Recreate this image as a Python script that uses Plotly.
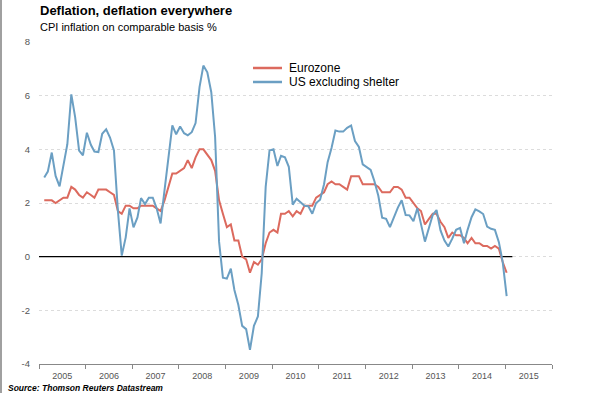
import pandas as pd
import plotly.graph_objects as go

# Monthly data, Feb 2005 .. Jan 2015
start_month = "2005-02-01"
n_months = 120

eurozone = [
    2.1, 2.1, 2.1, 2.0, 2.1, 2.2, 2.2, 2.6, 2.5, 2.3, 2.2, 2.4,
    2.3, 2.2, 2.5, 2.5, 2.5, 2.4, 2.3, 1.7, 1.6, 1.9, 1.9, 1.8,
    1.8, 1.9, 1.9, 1.9, 1.9, 1.8, 1.7, 2.1, 2.6, 3.1, 3.1, 3.2,
    3.3, 3.6, 3.3, 3.7, 4.0, 4.0, 3.8, 3.6, 3.2, 2.1, 1.6, 1.1,
    1.2, 0.6, 0.6, 0.0, -0.1, -0.6, -0.2, -0.3, -0.1, 0.5, 0.9, 1.0,
    0.9, 1.6, 1.6, 1.7, 1.5, 1.7, 1.6, 1.9, 1.9, 1.9, 2.2, 2.3,
    2.4, 2.7, 2.8, 2.7, 2.7, 2.6, 2.5, 3.0, 3.0, 3.0, 2.7, 2.7,
    2.7, 2.7, 2.6, 2.4, 2.4, 2.4, 2.6, 2.6, 2.5, 2.2, 2.2, 2.0,
    1.8, 1.7, 1.2, 1.4, 1.6, 1.6, 1.3, 1.1, 0.7, 0.9, 0.8, 0.8,
    0.7, 0.5, 0.7, 0.5, 0.5, 0.4, 0.4, 0.3, 0.4, 0.3, -0.2, -0.6,
]

us_ex_shelter = [
    2.95, 3.17, 3.88, 3.01, 2.62, 3.33, 4.19, 6.05, 5.2, 3.95, 3.78, 4.62,
    4.17, 3.92, 3.9, 4.58, 4.75, 4.44, 3.96, 1.7, 0.04, 0.72, 1.8, 1.09,
    1.46, 2.18, 1.96, 2.2, 2.2, 1.8, 1.24, 2.48, 3.72, 4.89, 4.56, 4.85,
    4.6, 4.52, 4.64, 4.98, 6.32, 7.12, 6.87, 6.13, 4.46, 0.56, -0.78, -0.82,
    -0.45, -1.24, -1.8, -2.58, -2.7, -3.47, -2.58, -2.23, -0.62, 2.6, 3.96, 4.0,
    3.38, 3.76, 3.7, 3.35, 1.94, 2.16, 2.03, 1.9, 1.88, 1.6, 2.0, 2.12,
    2.7, 3.52, 4.06, 4.7, 4.66, 4.66, 4.8, 4.89, 4.31, 4.09, 3.44, 3.34,
    3.23, 2.82, 2.27, 1.45, 1.41, 1.1, 1.5, 1.83, 2.1, 1.55, 1.54, 1.32,
    1.81, 1.25, 0.56, 1.05, 1.55, 1.74, 0.98, 0.6, 0.38, 0.67, 1.0, 1.07,
    0.5, 1.0, 1.47, 1.76, 1.69, 1.59, 1.12, 1.04, 1.0, 0.54, -0.2, -1.47,
]

y_ticks = [-4, -2, 0, 2, 4, 6, 8]
series_names = ["Eurozone", "US excluding shelter"]
series_colors = ["#dc6a5e", "#6b9fc3"]

dates = pd.date_range(start_month, periods=n_months, freq="MS") + pd.Timedelta(days=10)

FONT = "Liberation Sans, Arial, sans-serif"

fig = go.Figure()
for name, vals, col in zip(series_names, [eurozone, us_ex_shelter], series_colors):
    fig.add_trace(go.Scatter(x=dates, y=vals, mode="lines", name=name,
                             line=dict(color=col, width=2), showlegend=False,
                             hoverinfo="skip"))

W, H = 590, 393
L, R, T, B = 39, 38, 42, 29
pw, ph = W - L - R, H - T - B

def px_x(p):
    return (p - L) / pw

def px_y(p):
    return (H - B - p) / ph

annotations = [
    dict(text="<b>Deflation, deflation everywhere</b>", x=px_x(38), y=px_y(10),
         xanchor="left", yanchor="middle", font=dict(size=13, color="#000", family=FONT)),
    dict(text="CPI inflation on comparable basis %", x=px_x(38), y=px_y(26.5),
         xanchor="left", yanchor="middle", font=dict(size=11, color="#000", family=FONT)),
    dict(text="<b><i>Source: Thomson Reuters Datastream</i></b>", x=px_x(6), y=px_y(387.5),
         xanchor="left", yanchor="middle", font=dict(size=8.5, color="#000", family=FONT)),
]
shapes = [
    dict(type="line", xref="x", yref="y", x0="2005-01-01", x1="2015-02-25", y0=0, y1=0,
         line=dict(color="#000", width=1.2), layer="between"),
    dict(type="line", xref="paper", yref="paper", x0=px_x(1), x1=px_x(1), y0=px_y(0), y1=px_y(H),
         line=dict(color="#a0a0a0", width=2)),
]
leg_y = [68, 82]
for name, col, yy in zip(series_names, series_colors, leg_y):
    shapes.append(dict(type="line", xref="paper", yref="paper", x0=px_x(253), x1=px_x(282),
                       y0=px_y(yy), y1=px_y(yy), line=dict(color=col, width=2.5)))
    annotations.append(dict(text=name, x=px_x(287), y=px_y(yy), xanchor="left", yanchor="middle",
                            font=dict(size=12, color="#000", family=FONT)))
for a in annotations:
    a.update(xref="paper", yref="paper", showarrow=False)

fig.update_layout(
    width=W, height=H,
    margin=dict(l=L, r=R, t=T, b=B, pad=0),
    paper_bgcolor="white", plot_bgcolor="white",
    font=dict(family=FONT),
    showlegend=False,
    annotations=annotations,
    shapes=shapes,
)
fig.update_xaxes(
    type="date", range=["2005-01-01", "2016-01-01"],
    dtick="M12", tick0="2005-01-01", tickformat="%Y", ticklabelmode="period",
    ticks="outside", ticklen=4, tickcolor="#888", tickwidth=1,
    showline=True, linecolor="#888", linewidth=1,
    showgrid=False, zeroline=False,
    ticklabelstandoff=-1,
    tickfont=dict(size=9, color="#555", family=FONT),
)
fig.update_yaxes(
    range=[-4, 8], tickvals=y_ticks, ticktext=[str(v) for v in y_ticks],
    showgrid=True, gridcolor="#dcdcdc", griddash="dot", gridwidth=1,
    zeroline=False, showline=False, ticks="",
    ticklabelstandoff=8,
    tickfont=dict(size=9.5, color="#555", family=FONT),
)

fig.write_html("out.html",
               config={"displayModeBar": False},
               post_script="document.body.style.margin='0';document.body.style.overflow='hidden';")
